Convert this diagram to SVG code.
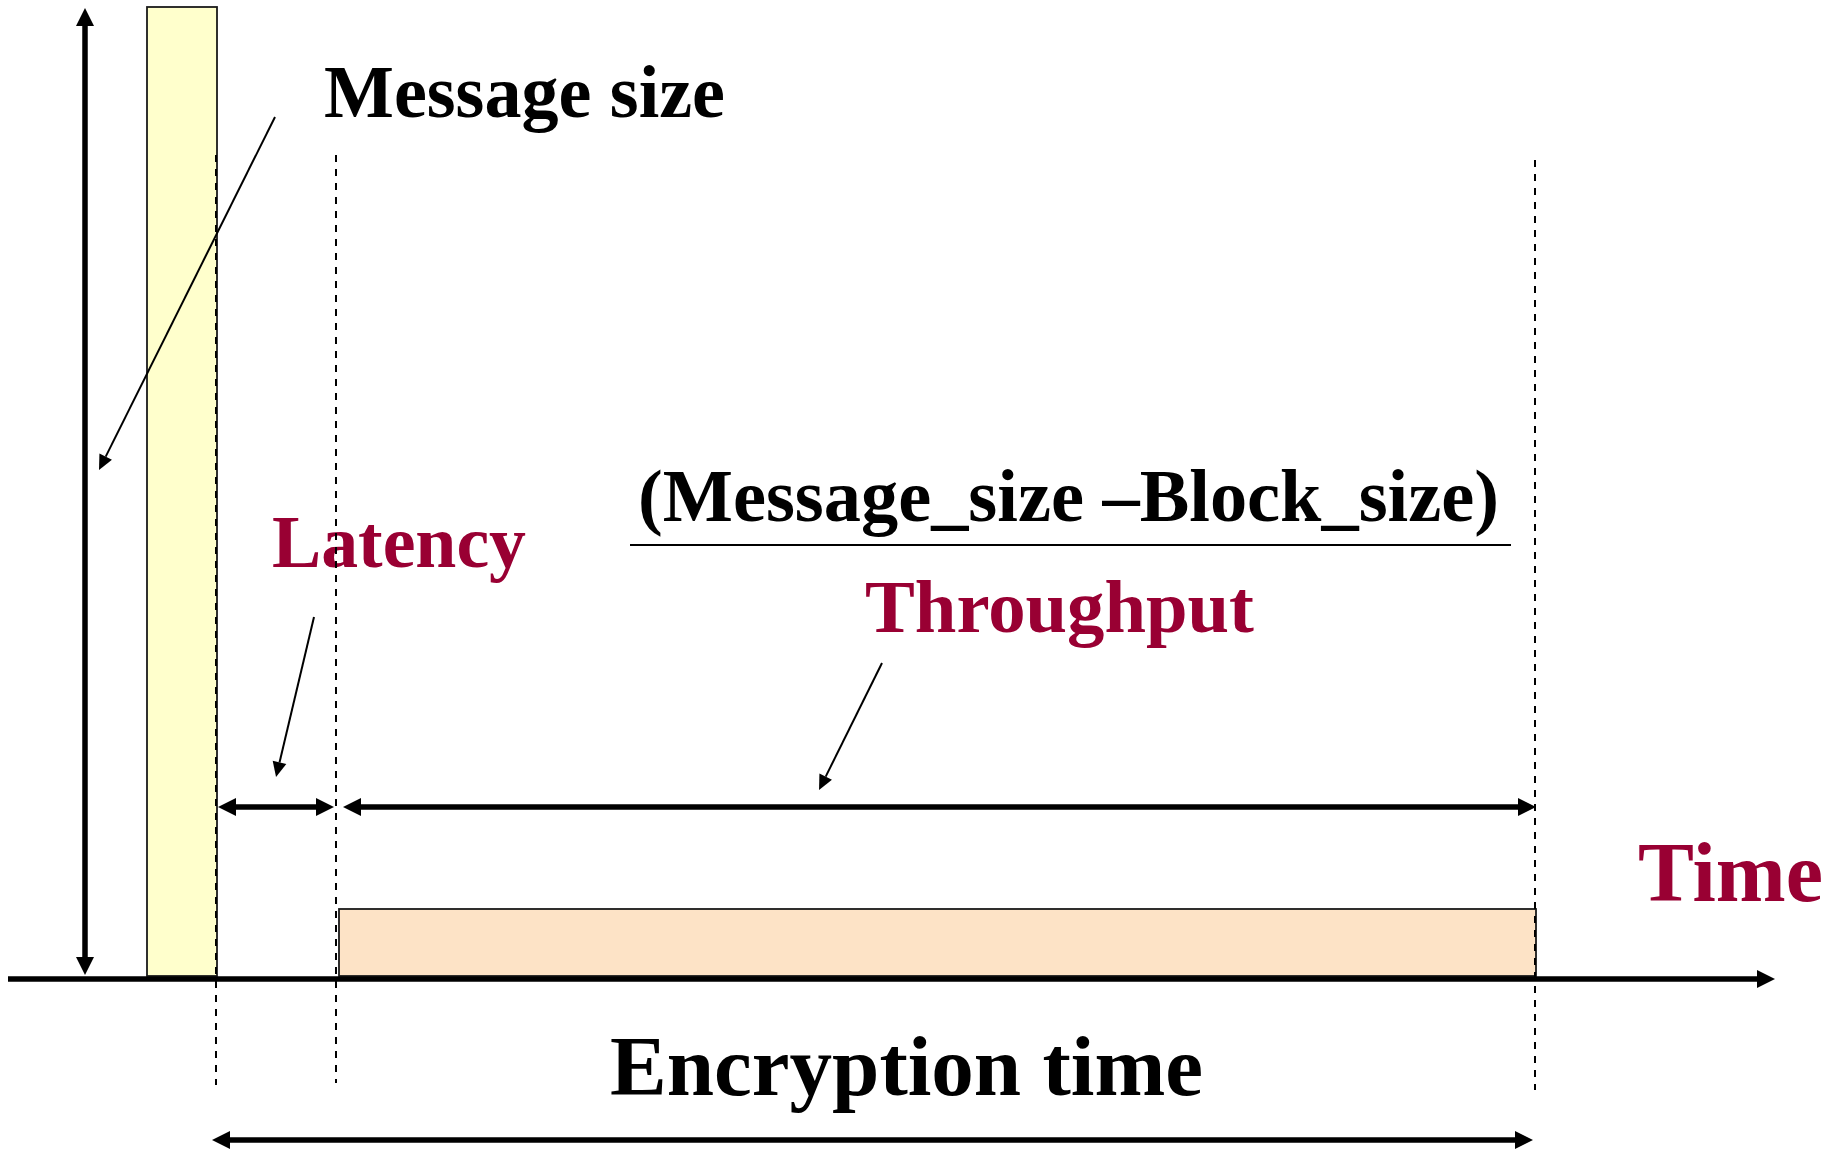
<svg xmlns="http://www.w3.org/2000/svg" width="1841" height="1151" viewBox="0 0 1841 1151">
  <style>
    .lbl { font-family: "Liberation Serif", "Times New Roman", serif; font-weight: bold; }
    .blk { fill: #000000; }
    .red { fill: #990033; }
    .box { stroke: #1a1a1a; stroke-width: 1.8; }
    .heavy { stroke: #000000; stroke-width: 5.5; fill: none; }
    .thin { stroke: #000000; stroke-width: 2; fill: none; }
    .guide { stroke: #000000; stroke-width: 2; stroke-dasharray: 7 7; fill: none; }
  </style>
  <defs>
    <!-- heavy arrowhead: base sits on the line end, tip extends 18px beyond -->
    <marker id="headBig" markerUnits="userSpaceOnUse" markerWidth="18" markerHeight="18" refX="0" refY="9" orient="auto-start-reverse" overflow="visible">
      <path d="M0,0 L18,9 L0,18 Z" fill="#000000"/>
    </marker>
    <!-- light pointer arrowhead -->
    <marker id="headSmall" markerUnits="userSpaceOnUse" markerWidth="15" markerHeight="14" refX="0" refY="7" orient="auto" overflow="visible">
      <path d="M0,0 L15,7 L0,14 Z" fill="#000000"/>
    </marker>
  </defs>

  <rect width="1841" height="1151" fill="#ffffff"/>

  <!-- message block -->
  <g id="message-block">
    <rect class="box" x="147" y="7" width="70" height="969" fill="#FFFFCC"/>
  </g>

  <!-- encryption block -->
  <g id="encryption-block">
    <rect class="box" x="339" y="909" width="1197" height="67" fill="#FDE3C6"/>
  </g>

  <!-- labels -->
  <g id="label-message-size">
    <text class="lbl blk" x="324" y="117" font-size="74" textLength="401" lengthAdjust="spacingAndGlyphs">Message size</text>
  </g>
  <g id="label-latency">
    <text class="lbl red" x="272" y="567" font-size="74" textLength="254" lengthAdjust="spacingAndGlyphs">Latency</text>
  </g>
  <g id="label-formula">
    <text class="lbl blk" x="638" y="521" font-size="74" textLength="861" lengthAdjust="spacingAndGlyphs">(Message_size –Block_size)</text>
    <line x1="630" y1="545" x2="1511" y2="545" stroke="#000000" stroke-width="2"/>
    <text class="lbl red" x="865" y="632" font-size="74" textLength="389" lengthAdjust="spacingAndGlyphs">Throughput</text>
  </g>
  <g id="label-time">
    <text class="lbl red" x="1638" y="901" font-size="84" textLength="185" lengthAdjust="spacingAndGlyphs">Time</text>
  </g>
  <g id="label-encryption-time">
    <text class="lbl blk" x="610" y="1095" font-size="84" textLength="593" lengthAdjust="spacingAndGlyphs">Encryption time</text>
  </g>

  <g id="connectors">
    <!-- vertical guides -->
    <line class="guide" x1="216" y1="155" x2="216" y2="1085"/>
    <line class="guide" x1="336" y1="155" x2="336" y2="1083"/>
    <line class="guide" x1="1535" y1="160" x2="1535" y2="1090"/>

    <!-- time axis -->
    <line class="heavy" x1="8" y1="979" x2="1757" y2="979" marker-end="url(#headBig)"/>

    <!-- message size extent -->
    <line class="heavy" x1="85" y1="26" x2="85" y2="957" marker-start="url(#headBig)" marker-end="url(#headBig)"/>

    <!-- latency span -->
    <line class="heavy" x1="236" y1="807" x2="316" y2="807" marker-start="url(#headBig)" marker-end="url(#headBig)"/>

    <!-- throughput span -->
    <line class="heavy" x1="361" y1="807" x2="1518" y2="807" marker-start="url(#headBig)" marker-end="url(#headBig)"/>

    <!-- encryption time span -->
    <line class="heavy" x1="230" y1="1140" x2="1515" y2="1140" marker-start="url(#headBig)" marker-end="url(#headBig)"/>

    <!-- label pointers -->
    <line class="thin" x1="275" y1="117" x2="105.7" y2="456.6" marker-end="url(#headSmall)"/>
    <line class="thin" x1="314" y1="617" x2="279.5" y2="762.4" marker-end="url(#headSmall)"/>
    <line class="thin" x1="882" y1="663" x2="825.7" y2="776.6" marker-end="url(#headSmall)"/>
  </g>
</svg>
